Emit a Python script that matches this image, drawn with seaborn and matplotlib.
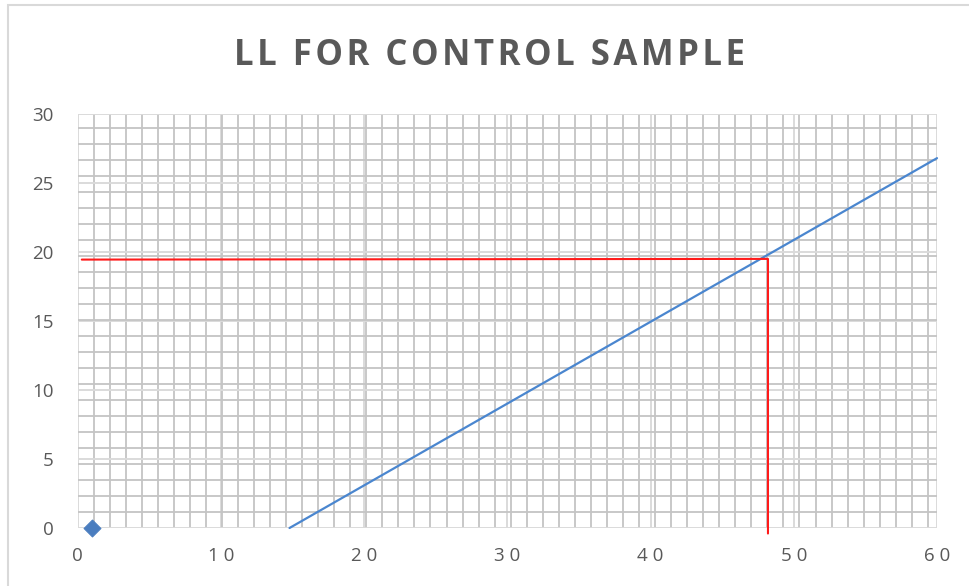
import numpy as np
import pandas as pd
import matplotlib
matplotlib.use("Agg")
import matplotlib.pyplot as plt
from matplotlib.ticker import MultipleLocator
from matplotlib.patches import Rectangle
import seaborn as sns

title = "LL FOR CONTROL SAMPLE"
fit_x = [14.8, 60.0]
fit_y = [0.0, 26.8]
guide_x = [0.3, 48.2, 48.2]
guide_y = [19.45, 19.5, -0.4]
pt_x = [1.0]
pt_y = [0.0]
x_ticks = [0, 10, 20, 30, 40, 50, 60]
y_ticks = [0, 5, 10, 15, 20, 25, 30]

sns.set_theme(style="white")
plt.rcParams['font.family'] = ['Open Sans', 'DejaVu Sans']

fig = plt.figure(figsize=(9.69, 5.86), dpi=100)
ax = fig.add_axes([77.5/969, 1-528/586, (937-77.5)/969, (528-114)/586])

ax.set_xlim(0, 60)
ax.set_ylim(0, 30)
ax.xaxis.set_minor_locator(MultipleLocator(1.12))
ax.yaxis.set_minor_locator(MultipleLocator(1.16))
ax.grid(True, which="major", color="#dadada", linewidth=1.4)
ax.grid(True, which="minor", color="#c4c4c4", linewidth=1.3)
ax.set_axisbelow(True)
ax.tick_params(which="both", length=0)
for s in ax.spines.values():
    s.set_visible(False)

df_fit = pd.DataFrame({"x": fit_x, "y": fit_y})
sns.lineplot(data=df_fit, x="x", y="y", ax=ax, color="#4a86cf", linewidth=1.6,
             sort=False, estimator=None, errorbar=None)
df_guide = pd.DataFrame({"x": guide_x, "y": guide_y})
sns.lineplot(data=df_guide, x="x", y="y", ax=ax, color="#ff1a1a", linewidth=1.5,
             sort=False, estimator=None, errorbar=None)
for line in ax.lines:
    line.set_clip_on(False)
df_pt = pd.DataFrame({"x": pt_x, "y": pt_y})
sns.scatterplot(data=df_pt, x="x", y="y", ax=ax, marker="D", s=75, color="#4a7dbf",
                edgecolor="#4a7dbf", clip_on=False, zorder=5)

ax.set_xlim(0, 60)
ax.set_ylim(0, 30)
ax.set_xticks(x_ticks)
ax.set_yticks(y_ticks)
ax.set_xticklabels([" ".join(str(v)) for v in x_ticks], fontsize=13.5, color="#595959")
ax.set_yticklabels([str(v) for v in y_ticks], fontsize=13.5, color="#595959")
ax.tick_params(axis="x", pad=14)
ax.tick_params(axis="y", pad=17)
ax.set_xlabel("")
ax.set_ylabel("")

fig.text(490/969, 1-56/586, "\u200a".join(title), ha="center", va="center", fontsize=25,
         fontweight="bold", color="#595959")

fig.patches.append(Rectangle((8/969, -0.1), 1.2, 1.1 - 5/586, transform=fig.transFigure,
                             fill=False, edgecolor="#d9d9d9", linewidth=1.5))

fig.savefig("out.png", dpi=100)
